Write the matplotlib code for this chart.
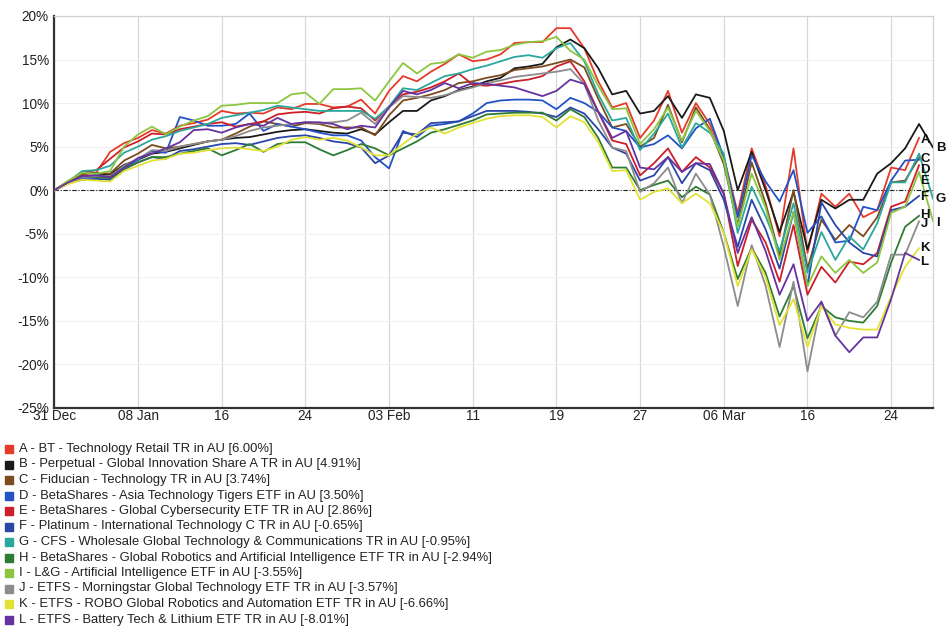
import matplotlib
matplotlib.use("Agg")
import matplotlib.pyplot as plt
from matplotlib.patches import Rectangle

plt.rcParams['font.family'] = ['Liberation Sans', 'DejaVu Sans']

# trading-day axis: index 0 = 31 Dec, a tick every 6 trading days
tick_pos = [0, 6, 12, 18, 24, 30, 36, 42, 48, 54, 60]
tick_labels = ['31 Dec', '08 Jan', '16', '24', '03 Feb', '11', '19', '27', '06 Mar', '16', '24']

codes = ['A', 'B', 'C', 'D', 'E', 'F', 'G', 'H', 'I', 'J', 'K', 'L']
names = [
    'A - BT - Technology Retail TR in AU [6.00%]',
    'B - Perpetual - Global Innovation Share A TR in AU [4.91%]',
    'C - Fiducian - Technology TR in AU [3.74%]',
    'D - BetaShares - Asia Technology Tigers ETF in AU [3.50%]',
    'E - BetaShares - Global Cybersecurity ETF TR in AU [2.86%]',
    'F - Platinum - International Technology C TR in AU [-0.65%]',
    'G - CFS - Wholesale Global Technology & Communications TR in AU [-0.95%]',
    'H - BetaShares - Global Robotics and Artificial Intelligence ETF TR in AU [-2.94%]',
    'I - L&G - Artificial Intelligence ETF in AU [-3.55%]',
    'J - ETFS - Morningstar Global Technology ETF TR in AU [-3.57%]',
    'K - ETFS - ROBO Global Robotics and Automation ETF TR in AU [-6.66%]',
    'L - ETFS - Battery Tech & Lithium ETF TR in AU [-8.01%]',
]
colors = ['#e63a2b', '#1a1a1a', '#7a4c1e', '#2352c6', '#cc1f2a', '#2a46a6',
          '#2aa89c', '#2e7b34', '#8cc63f', '#8c8c8c', '#e2e234', '#6632a0']

# cumulative return (%) per trading day
A = [0, 0.9, 1.8, 2.0, 4.4, 5.4, 6.0, 6.9, 6.5, 7.4, 7.7, 8.1,
     9.1, 8.8, 8.9, 8.8, 9.5, 9.3, 9.9, 9.9, 9.5, 9.6, 10.4,
     8.8, 11.4, 13.1, 12.5, 13.6, 14.5, 15.6, 14.8, 15.0, 15.6, 16.9, 17.0, 17.0,
     18.6, 18.6, 16.3, 12.5, 9.5, 10.0,
     6.0, 8.0, 11.4, 6.6, 10.0, 7.6, 3.8,
     -2.6, 4.8, 0.5, -5.3, 4.8, -7.2,
     -0.4, -1.9, -0.4, -3.1, -2.3, 2.6, 2.3, 6.0]
B = [0, 0.8, 1.6, 1.7, 1.8, 2.9, 3.5, 4.2, 4.4, 4.8, 5.2, 5.6,
     5.8, 6.0, 6.1, 6.4, 6.7, 6.9, 7.0, 6.8, 6.6, 6.5, 7.0,
     6.4, 7.8, 9.1, 9.1, 10.3, 10.8, 11.5, 11.9, 12.5, 12.9, 14.0, 14.2, 14.5,
     16.4, 17.3, 16.3, 14.0, 11.0, 11.4,
     8.8, 9.1, 10.8, 8.3, 11.0, 10.6, 6.8,
     0.0, 4.4, 0.0, -4.8, -0.2, -6.8,
     -1.1, -2.1, -1.1, -1.1, 1.9, 3.1, 4.8, 7.6, 4.91]
C = [0, 1.0, 1.9, 2.0, 1.9, 3.4, 4.2, 5.2, 4.8, 5.0, 5.3, 5.6,
     5.8, 6.5, 7.3, 7.9, 7.6, 7.3, 7.7, 7.6, 7.2, 7.2, 7.2,
     6.3, 8.6, 10.3, 10.6, 11.0, 11.5, 12.3, 12.5, 12.9, 13.2, 13.8, 14.0, 14.2,
     14.6, 15.0, 14.1, 10.5, 7.2, 7.6,
     5.0, 6.0, 9.8, 5.5, 9.5, 7.0, 3.0,
     -4.0, 3.2, -1.5, -7.5, 0.0, -9.0,
     -3.4, -5.7, -4.0, -5.3, -3.1, 0.9, 1.1, 3.74]
D = [0, 0.8, 1.4, 1.5, 1.4, 2.5, 3.5, 4.5, 4.3, 8.4, 8.0, 7.4,
     7.4, 7.6, 8.8, 6.8, 7.6, 7.3, 7.0, 6.6, 6.3, 6.3, 5.7,
     3.8, 2.5, 6.8, 6.1, 7.4, 7.6, 7.9, 8.8, 10.0, 10.3, 10.4, 10.4, 10.3,
     9.3, 10.6, 10.0, 9.0, 7.2, 6.8,
     4.9, 5.3, 6.3, 4.8, 7.1, 8.2, 3.8,
     -3.1, 4.0, 1.0, -1.3, 2.3, -4.9,
     -3.0, -6.0, -5.8, -1.9, -2.3, 1.1, 3.4, 3.5]
E = [0, 1.0, 2.0, 2.3, 3.6, 4.9, 5.6, 6.5, 6.4, 7.0, 7.3, 7.6,
     7.8, 7.3, 7.6, 7.9, 8.7, 8.9, 9.0, 8.8, 9.4, 9.6, 9.4,
     8.0, 9.6, 11.0, 11.3, 11.8, 12.5, 13.4, 12.1, 12.0, 12.2, 12.5, 12.7, 13.1,
     14.2, 14.8, 12.5, 9.0, 5.7, 5.3,
     1.7, 3.1, 4.8, 2.1, 3.8, 2.6, -0.4,
     -8.7, -3.4, -6.0, -10.5, -4.0, -12.0,
     -8.8, -10.6, -8.2, -8.5, -7.2, -1.9, -1.3, 2.86]
F = [0, 0.8, 1.2, 1.3, 1.2, 2.4, 3.2, 3.8, 3.6, 4.5, 4.7, 5.0,
     5.3, 5.4, 5.2, 5.6, 6.0, 6.2, 6.3, 6.0, 5.6, 5.4, 4.9,
     3.1, 4.0, 6.6, 6.4, 7.7, 7.8, 7.9, 8.5, 9.1, 9.1, 9.1, 9.0, 8.8,
     8.4, 9.5, 8.8, 7.0, 4.9, 4.2,
     1.1, 1.7, 3.8, 0.8, 3.1, 2.3, -1.1,
     -6.5, -1.1, -4.5, -9.0, -2.5, -11.0,
     -1.4, -4.0, -6.0, -7.2, -7.6, -2.3, -1.9, -0.65]
G = [0, 1.0, 2.2, 2.3, 2.8, 4.3, 5.0, 5.8, 6.2, 6.8, 7.2, 7.6,
     8.3, 8.6, 8.9, 9.2, 9.7, 9.5, 9.3, 9.1, 9.1, 9.1, 9.1,
     8.2, 9.6, 11.7, 11.5, 12.3, 13.1, 13.4, 13.9, 14.3, 14.8, 15.3, 15.5, 15.2,
     16.3, 16.9, 14.8, 11.0, 8.0, 8.3,
     4.6, 6.5, 8.8, 4.9, 7.7, 6.6, 4.2,
     -4.9, 0.4, -3.0, -7.0, -1.5, -9.5,
     -4.8, -8.0, -5.3, -6.8, -3.8, 0.9, 0.9, 4.2, -0.95]
H = [0, 0.9, 1.6, 1.5, 1.4, 2.5, 3.2, 3.8, 3.8, 4.2, 4.5, 4.8,
     4.0, 4.6, 5.3, 4.4, 5.3, 5.5, 5.5, 4.7, 4.0, 4.6, 5.3,
     4.8, 4.0, 4.8, 5.6, 6.6, 7.0, 7.5, 8.0, 8.7, 8.8, 8.9, 8.9, 8.9,
     8.0, 9.3, 8.4, 6.0, 2.6, 2.6,
     0.0, 0.6, 1.1, -0.8, 0.4, -0.5, -4.9,
     -10.2, -6.6, -9.5, -14.5, -11.0, -17.0,
     -13.3, -14.6, -15.0, -15.2, -13.3, -8.3, -4.2, -2.94]
I = [0, 1.1, 2.0, 1.9, 2.2, 5.0, 6.4, 7.3, 6.4, 7.3, 8.0, 8.5,
     9.7, 9.8, 10.0, 10.0, 10.0, 11.0, 11.2, 9.9, 11.6, 11.6, 11.7,
     10.3, 12.5, 14.6, 13.4, 14.5, 14.7, 15.6, 15.2, 15.9, 16.1, 16.7, 17.0, 17.1,
     17.6, 16.0, 15.0, 12.0, 9.3, 9.4,
     5.3, 7.0, 9.5, 5.7, 9.1, 6.8, 3.4,
     -4.2, 1.9, -2.0, -8.0, -2.5, -11.0,
     -7.6, -9.5, -8.0, -9.5, -8.3, -2.6, -1.9, 2.1, -3.55]
J = [0, 0.8, 1.5, 1.6, 1.6, 2.8, 3.6, 4.6, 4.5, 5.0, 5.3, 5.6,
     5.8, 6.2, 6.8, 7.2, 7.4, 7.6, 7.8, 7.7, 7.8, 8.0, 8.9,
     7.6, 9.5, 10.8, 10.7, 10.6, 10.9, 11.4, 11.8, 12.3, 12.6, 13.0, 13.2, 13.4,
     13.6, 13.9, 12.2, 8.0, 4.9, 4.5,
     -0.2, 0.8, 2.6, -1.5, 1.9, -0.5, -6.5,
     -13.3, -6.3, -11.0, -18.0, -10.5, -20.8,
     -12.8, -16.7, -14.0, -14.6, -12.8, -7.4, -7.4, -3.57]
K = [0, 0.7, 1.2, 1.1, 1.0, 2.2, 2.8, 3.4, 3.6, 4.2, 4.3, 4.6,
     4.8, 4.9, 4.7, 4.5, 5.0, 5.8, 6.1, 5.8, 6.0, 5.7, 4.9,
     4.0, 4.0, 5.3, 6.5, 7.2, 6.5, 7.2, 7.7, 8.2, 8.5, 8.6, 8.6, 8.4,
     7.2, 8.5, 7.8, 5.5, 2.2, 2.3,
     -1.1, -0.2, 0.2, -1.5, -0.4, -1.5, -4.9,
     -11.0, -6.8, -10.0, -15.5, -12.5, -18.0,
     -13.3, -15.4, -15.8, -16.0, -16.0, -12.2, -8.8, -6.66]
L = [0, 0.9, 1.6, 1.7, 1.5, 2.6, 3.7, 4.2, 4.8, 5.5, 6.9, 7.0,
     6.6, 7.2, 7.6, 7.4, 8.3, 7.6, 7.8, 7.8, 7.6, 7.0, 7.4,
     7.2, 9.5, 11.4, 11.0, 11.5, 12.3, 11.7, 12.3, 12.2, 12.0, 11.8, 11.3, 10.8,
     11.4, 12.7, 12.2, 9.0, 6.0, 6.8,
     2.6, 2.4, 3.8, 2.1, 3.1, 3.0, -0.4,
     -7.2, -3.1, -7.0, -12.0, -8.5, -15.0,
     -12.8, -16.7, -18.6, -16.9, -16.9, -12.5, -7.2, -8.01]

series = [A, B, C, D, E, F, G, H, I, J, K, L]

fig = plt.figure(figsize=(9.53, 6.34), dpi=100)
ax = fig.add_axes([0.057, 0.3565, 0.922, 0.6183])

for ys, c in zip(series, colors):
    ax.plot(range(len(ys)), ys, color=c, lw=1.3, zorder=3)

ax.axhline(0, color='#222222', lw=0.8, ls=(0, (4, 1.5, 1, 1.5)), zorder=2)

ax.set_xlim(0, 63)
ax.set_ylim(-25, 20)
ax.set_xticks(tick_pos)
ax.set_xticklabels(tick_labels)
ax.set_yticks(range(-25, 21, 5))
ax.set_yticklabels([f'{v}%' for v in range(-25, 21, 5)])
ax.tick_params(length=0, labelsize=9.8, colors='#222222')
ax.tick_params(axis='x', pad=1)
ax.tick_params(axis='y', pad=4)

ax.grid(axis='x', color='#d8d8d8', lw=0.9, zorder=0)
ax.grid(axis='y', color='#f0f0f0', lw=0.8, zorder=0)
for s in ['top', 'right']:
    ax.spines[s].set_color('#d0d0d0')
    ax.spines[s].set_linewidth(0.9)
for s in ['left', 'bottom']:
    ax.spines[s].set_color('#333333')
    ax.spines[s].set_linewidth(1.6)

# end-of-line series letters
label_x = {'B': 63.2, 'G': 63.2, 'I': 63.2}
label_y = [5.8, 4.8, 3.6, 2.3, 1.0, -0.8, -1.0, -2.8, -3.8, -3.9, -6.6, -8.2]
for code, yv in zip(codes, label_y):
    ax.text(label_x.get(code, 62.1), yv, code, fontsize=9.5, fontweight='bold',
            ha='left', va='center', color='#111111', clip_on=False, zorder=4)

# legend below the chart
row0 = 1 - 449 / 634
step = 15.5 / 634
for k, (name, c) in enumerate(zip(names, colors)):
    yk = row0 - k * step
    fig.patches.append(Rectangle((5 / 953, yk - 4 / 634), 8 / 953, 8 / 634,
                                 transform=fig.transFigure, color=c))
    fig.text(19 / 953, yk, name, fontsize=9.4, va='center', ha='left', color='#222222')

fig.savefig('out.png', dpi=100)
